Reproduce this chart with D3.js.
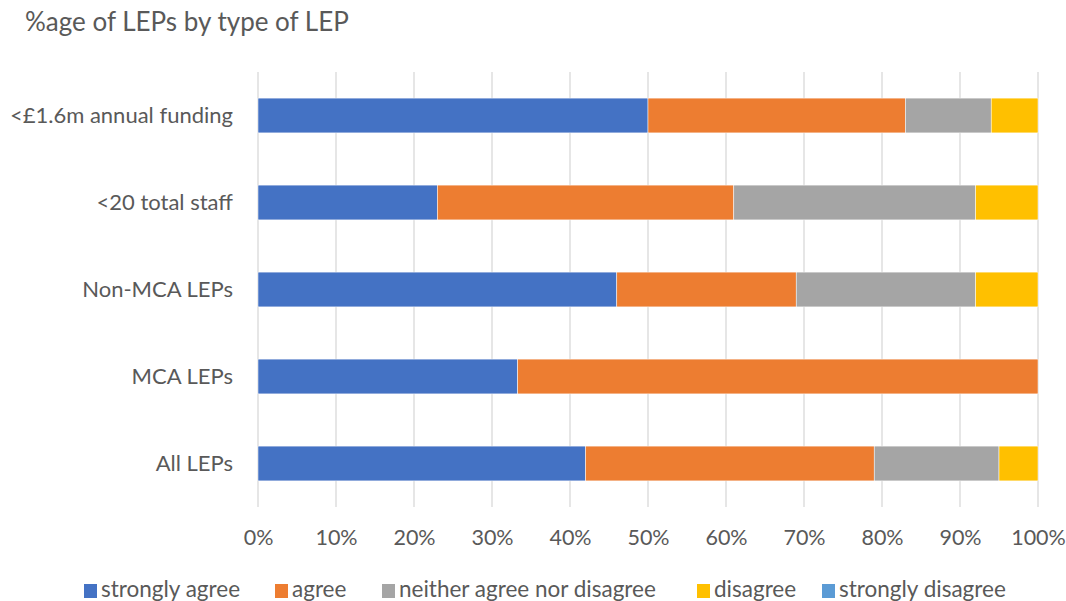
<!DOCTYPE html>
<html><head><meta charset="utf-8">
<script src="https://cdn.jsdelivr.net/npm/d3@7"></script>
<style>body{margin:0;background:#fff}svg{display:block}</style>
</head><body>
<svg id="c" width="1066" height="601"></svg>
<script>
const categories = ["<£1.6m annual funding","<20 total staff","Non-MCA LEPs","MCA LEPs","All LEPs"];
const seriesNames = ["strongly agree","agree","neither agree nor disagree","disagree","strongly disagree"];
const stronglyAgree = [50, 23, 46, 33.3, 42];
const agree         = [33, 38, 23, 66.7, 37];
const neither       = [11, 31, 23, 0, 16];
const disagree      = [6, 8, 8, 0, 5];
const stronglyDisagree = [0, 0, 0, 0, 0];
const tickValues = [0,10,20,30,40,50,60,70,80,90,100];
const colors = ["#4472C4","#ED7D31","#A5A5A5","#FFC000","#5B9BD5"];

const font = "Lato, 'Open Sans', sans-serif";
const textCol = "#595959";
const svg = d3.select("#c");
const W = 1066;
const m = {left:258, right:28, top:72, bottom:94};
const x = d3.scaleLinear().domain([0,100]).range([m.left, W - m.right]);
const y = d3.scaleBand().domain(categories).range([m.top, 601 - m.bottom]).paddingInner(0.6).paddingOuter(0.3);

svg.append("text").attr("x",25).attr("y",31).attr("font-family",font).attr("font-size",26).attr("fill",textCol).text("%age of LEPs by type of LEP");

// gridlines
svg.append("g").selectAll("line").data(tickValues).join("line")
  .attr("x1",d=>x(d)).attr("x2",d=>x(d)).attr("y1",m.top).attr("y2",601-m.bottom)
  .attr("stroke","#D9D9D9").attr("stroke-width",1.3);

const rows = categories.map((c,i)=>({cat:c, vals:[stronglyAgree[i],agree[i],neither[i],disagree[i],stronglyDisagree[i]]}));
const stackData = rows.map(r=>{const o={cat:r.cat}; seriesNames.forEach((s,j)=>o[s]=r.vals[j]); return o;});
const stacked = d3.stack().keys(seriesNames)(stackData);

svg.append("g").selectAll("g").data(stacked).join("g").attr("fill",(d,i)=>colors[i])
  .selectAll("rect").data(d=>d).join("rect")
  .attr("x",d=>x(d[0])).attr("width",d=>Math.max(0,x(d[1])-x(d[0])))
  .attr("y",d=>y(d.data.cat)).attr("height",y.bandwidth())
  .attr("stroke","#fff").attr("stroke-width",d=>(d[1]-d[0])>0?0.5:0);

// category labels
svg.append("g").selectAll("text").data(categories).join("text")
  .attr("x",233).attr("y",d=>y(d)+y.bandwidth()/2).attr("dy","0.35em")
  .attr("text-anchor","end").attr("font-family",font).attr("font-size",22).attr("fill",textCol).text(d=>d);

// x axis
const xAxis = d3.axisBottom(x).tickValues(tickValues).tickFormat(d=>d+"%").tickSize(0).tickPadding(0);
const ax = svg.append("g").attr("transform",`translate(0,${601-m.bottom})`).call(xAxis);
ax.select(".domain").remove();
ax.selectAll("text").attr("y",38).attr("dy",0).attr("font-family",font).attr("font-size",21.5).attr("fill",textCol);

// legend
const legX = [84, 275, 382, 697, 822];
const lg = svg.append("g").selectAll("g").data(seriesNames).join("g")
  .attr("transform",(d,i)=>`translate(${legX[i]},584)`);
lg.append("rect").attr("width",13).attr("height",14).attr("fill",(d,i)=>colors[i]);
lg.append("text").attr("x",17).attr("y",13).attr("font-family",font).attr("font-size",22.5).attr("fill",textCol).text(d=>d);
</script>
</body></html>
